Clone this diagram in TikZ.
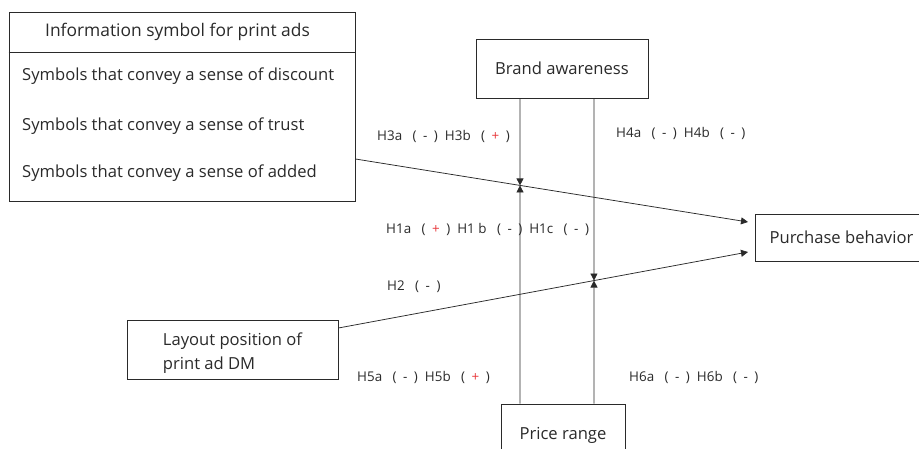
\documentclass[tikz,border=0pt]{standalone}
\usepackage{fontspec}
\setmainfont{Open Sans}
\usetikzlibrary{arrows.meta,calc}
\definecolor{ink}{HTML}{2A2A2A}
\definecolor{plusred}{HTML}{E8383B}
\tikzset{
  flow/.style={-{Triangle[length=7pt,width=7pt]},draw=ink,line width=.75pt},
  rule/.style={draw=ink,line width=.9pt},
  factor/.style={draw=ink,fill=white,line width=.9pt,inner sep=0pt,
    font=\fontsize{16.6}{24}\selectfont},
  itemtext/.style={anchor=west,inner sep=0pt,font=\fontsize{16.6}{20}\selectfont},
  hyp/.style={anchor=west,inner sep=0pt,font=\fontsize{13.4}{16}\selectfont}
}
\newcommand{\pos}{\textcolor{plusred}{+}}
\newcommand{\sgn}[1]{\hspace{10.5pt}(\hspace{6.5pt}#1\hspace{6.5pt})}

\begin{document}
\begin{tikzpicture}[x=1pt,y=-1pt,every node/.style={text=ink}]
  \useasboundingbox[fill=white] (0,0) rectangle (919,449);

  % Information symbols for print ads.
  \node[factor,minimum width=346pt,minimum height=189pt] (info) at (182,106.5) {};
  \node[inner sep=0pt,font=\fontsize{17.4}{20}\selectfont] (infohead) at (177.5,32)
    {Information symbol for print ads};
  \draw[rule] (info.west |- 0,52) -- (info.east |- 0,52);
  \node[itemtext] (sym1) at (22,76) {Symbols that convey a sense of discount};
  \node[itemtext] (sym2) at (22,126) {Symbols that convey a sense of trust};
  \node[itemtext] (sym3) at (22,173) {Symbols that convey a sense of added};

  % Other factors.
  \node[factor,minimum width=172pt,minimum height=59pt] (brand) at (562,68.5)
    {Brand awareness};
  \node[factor,minimum width=124pt,minimum height=62pt] (price) at (563,435)
    {Price range};
  \node[factor,minimum width=211pt,minimum height=59pt,align=left]
    (layout) at (232.5,349.5) {\rule{0pt}{19pt}Layout position of\\print ad DM};
  \node[factor,anchor=west,minimum width=172pt,minimum height=47pt]
    (buy) at (755,237.5) {Purchase behavior};

  % Main paths.
  \coordinate (s1) at ($(info.east)+(0,52.5)$);
  \coordinate (t1) at ($(buy.west)+(-7,-15.5)$);
  \coordinate (s2) at ($(layout.east)+(0,-21.5)$);
  \coordinate (t2) at ($(buy.west)+(-7,14.5)$);
  \draw[flow] (s1) -- (t1);
  \draw[flow] (s2) -- (t2);

  % Moderating paths.
  \coordinate (ba1) at ($(brand.south)+(-42,0)$);
  \coordinate (ba2) at ($(brand.south)+(32,0)$);
  \coordinate (pr1) at (ba1 |- price.north);
  \coordinate (pr2) at (ba2 |- price.north);
  \coordinate (m1) at (intersection of s1--t1 and ba1--pr1);
  \coordinate (m2) at (intersection of s2--t2 and ba2--pr2);
  \draw[flow] (ba1) -- (m1);
  \draw[flow] (pr1) -- (m1);
  \draw[flow] (ba2) -- (m2);
  \draw[flow] (pr2) -- (m2);

  % Hypotheses.
  \node[hyp] (h3) at (377,136) {H3a\sgn{-}\hspace{7pt}H3b\sgn{\pos}};
  \node[hyp] (h4) at (616,133) {H4a\sgn{-}\hspace{7pt}H4b\sgn{-}};
  \node[hyp] (h1) at (386,229)
    {H1a\sgn{\pos}\hspace{7pt}H1 b\sgn{-}\hspace{7pt}H1c\sgn{-}};
  \node[hyp] (h2) at (387,287) {H2\sgn{-}};
  \node[hyp] (h5) at (357,377) {H5a\sgn{-}\hspace{7pt}H5b\sgn{\pos}};
  \node[hyp] (h6) at (629,377) {H6a\sgn{-}\hspace{7pt}H6b\sgn{-}};
\end{tikzpicture}
\end{document}
